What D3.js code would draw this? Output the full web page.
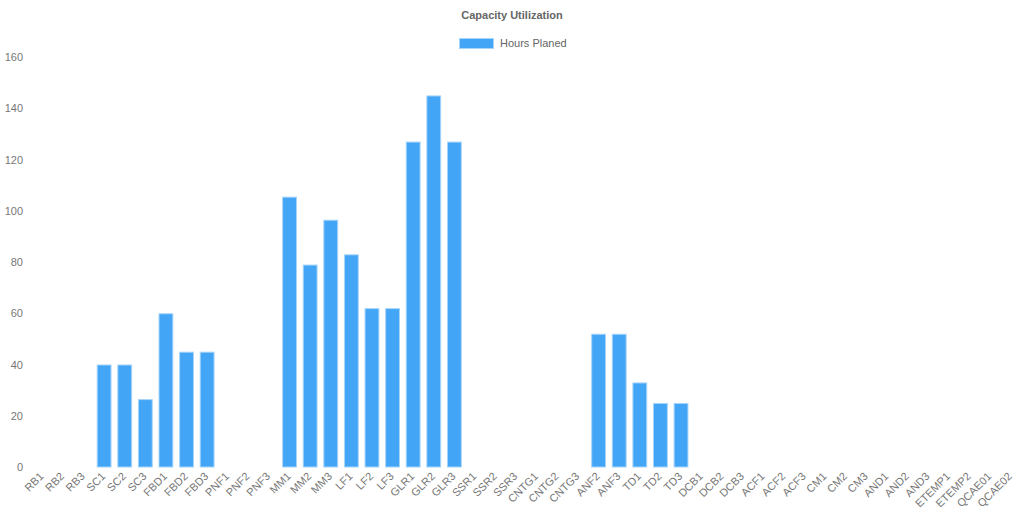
<!DOCTYPE html>
<html>
<head>
<meta charset="utf-8">
<script src="https://cdn.jsdelivr.net/npm/d3@7"></script>
<style>
  body { margin: 0; background: #fff; }
  svg { display: block; }
  text { font-family: "Liberation Sans", Arial, sans-serif; fill: #666; }
</style>
</head>
<body>
<svg id="chart" width="1024" height="512"></svg>
<script>
const categories = ["RB1","RB2","RB3","SC1","SC2","SC3","FBD1","FBD2","FBD3","PNF1","PNF2","PNF3",
  "MM1","MM2","MM3","LF1","LF2","LF3","GLR1","GLR2","GLR3","SSR1","SSR2","SSR3",
  "CNTG1","CNTG2","CNTG3","ANF2","ANF3","TD1","TD2","TD3","DCB1","DCB2","DCB3",
  "ACF1","ACF2","ACF3","CM1","CM2","CM3","AND1","AND2","AND3","ETEMP1","ETEMP2","QCAE01","QCAE02"];
const hoursPlaned = [0,0,0,40,40,26.5,60,45,45,0,0,0,
  105.5,79,96.5,83,62,62,127,145,127,0,0,0,
  0,0,0,52,52,33,25,25,0,0,0,
  0,0,0,0,0,0,0,0,0,0,0,0,0];
const yTicks = [0,20,40,60,80,100,120,140,160];

const svg = d3.select("#chart");
const margin = {left: 32, right: 3, top: 57, bottom: 45};
const width = 1024, height = 512;

const x = d3.scaleBand()
    .domain(categories)
    .range([margin.left, width - margin.right])
    .paddingInner(0.28)
    .paddingOuter(0.14);

const y = d3.scaleLinear()
    .domain([0, 160])
    .range([height - margin.bottom, margin.top]);

// title
svg.append("text")
    .attr("x", 512).attr("y", 19)
    .attr("text-anchor", "middle")
    .style("font-size", "11px")
    .style("font-weight", "bold")
    .text("Capacity Utilization");

// legend
svg.append("rect")
    .attr("x", 459.5).attr("y", 38.5)
    .attr("width", 34).attr("height", 10)
    .attr("fill", "#42a5f5")
    .attr("stroke", "#a6d4fa");
svg.append("text")
    .attr("x", 500).attr("y", 47)
    .style("font-size", "11px")
    .text("Hours Planed");

// y axis
const yAxis = svg.append("g")
    .attr("transform", `translate(${margin.left - 9},0)`)
    .call(d3.axisLeft(y).tickValues(yTicks).tickSize(0).tickPadding(0));
yAxis.select(".domain").remove();
yAxis.selectAll("text")
    .style("font-size", "11px")
    .style("fill", "#777");

// x axis
const xAxis = svg.append("g")
    .attr("transform", `translate(0,${height - margin.bottom})`)
    .call(d3.axisBottom(x).tickSize(0));
xAxis.select(".domain").remove();
xAxis.selectAll("text")
    .style("font-size", "11px")
    .style("fill", "#777")
    .attr("text-anchor", "end")
    .attr("dy", null)
    .attr("y", null)
    .attr("transform", "translate(2,10) rotate(-45)");

// bars
svg.selectAll("rect.bar")
    .data(categories.map((c, i) => ({cat: c, value: hoursPlaned[i]})).filter(d => d.value > 0))
  .enter().append("rect")
    .attr("class", "bar")
    .attr("x", d => x(d.cat) + 0.5)
    .attr("y", d => y(d.value) + 0.5)
    .attr("width", x.bandwidth() - 1)
    .attr("height", d => y(0) - y(d.value) - 0.5)
    .attr("fill", "#42a5f5")
    .attr("stroke", "#a6d4fa")
    .attr("stroke-width", 1);
</script>
</body>
</html>
